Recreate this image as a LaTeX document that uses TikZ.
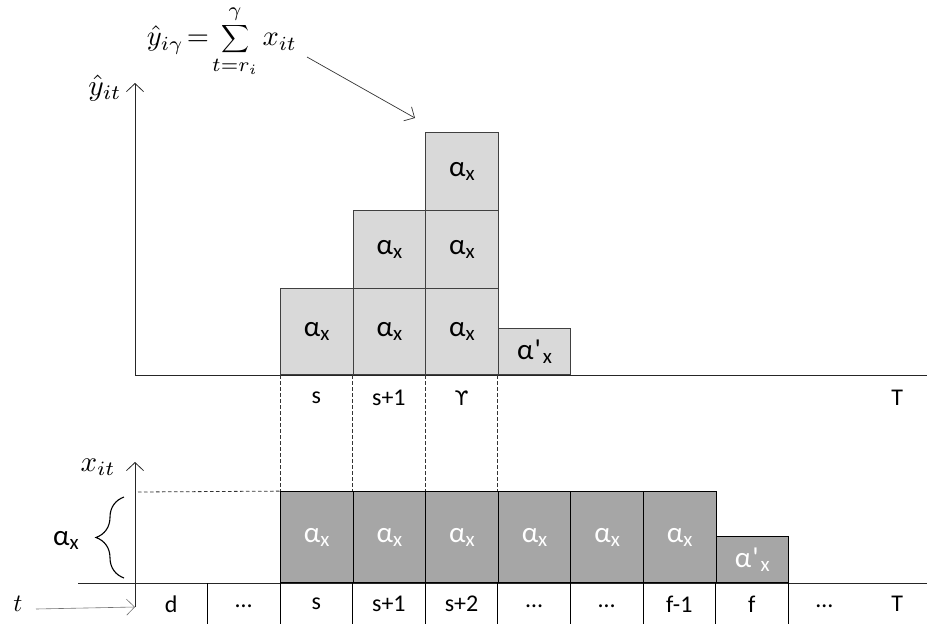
\documentclass[tikz,border=0pt]{standalone}
\usepackage{fontspec}
\setmainfont{Carlito}
\newfontfamily\dejavu{DejaVu Sans}
\usetikzlibrary{arrows.meta,decorations.pathreplacing}
\definecolor{lightbox}{HTML}{D9D9D9}
\definecolor{darkbox}{HTML}{A6A6A6}
\newcommand\alx{α\raisebox{-4pt}{\fontsize{21}{21}\selectfont x}}
\newcommand\alpx{α\hspace{1pt}\textquotesingle\hspace{2pt}\raisebox{-4pt}{\fontsize{21}{21}\selectfont x}}
\newcommand\scaledmath[2]{\scalebox{#1}{$#2$}}
\newcommand\smallsum{\mathop{\vcenter{\hbox{\scalebox{0.68}{$\displaystyle\sum$}}}}}
\begin{document}
\begin{tikzpicture}[x=1pt,y=-1pt,
  topbox/.style={draw=black!75, fill=lightbox, line width=0.9pt, minimum width=72.6pt,
    inner sep=0pt, anchor=south west, font=\fontsize{29}{29}\selectfont},
  botbox/.style={draw=black, fill=darkbox, line width=0.9pt, minimum width=72.6pt,
    minimum height=91pt, inner sep=0pt, anchor=south west, text=white,
    font=\fontsize{29}{29}\selectfont},
  lab/.style={font=\fontsize{24}{24}\selectfont, inner sep=0pt},
  mlab/.style={inner sep=0pt},
  axisline/.style={line width=1pt, draw=black!85},
  axisarrow/.style={line width=1pt, draw=black!85, -{Straight Barb[length=8pt,width=17pt,line width=0.8pt]}},
  cellsep/.style={line width=0.9pt, draw=black},
  guide/.style={dashed, dash pattern=on 3.5pt off 2.5pt, line width=0.8pt, draw=black!80}
]
\useasboundingbox (0,0) rectangle (927,624);

% top stacked boxes
\node[topbox, minimum height=86pt] (a1) at (280,375) {\alx};
\node[topbox, minimum height=86pt] (a2) at (352.6,375) {\alx};
\node[topbox, minimum height=78pt] (a3) at (352.6,289) {\alx};
\node[topbox, minimum height=86pt] (a4) at (425.2,375) {\alx};
\node[topbox, minimum height=78pt] (a5) at (425.2,289) {\alx};
\node[topbox, minimum height=78pt] (a6) at (425.2,211) {\alx};
\node[topbox, minimum height=46pt] (a7) at (497.8,375) {\alpx};

% bottom boxes
\node[botbox] (b1) at (280,583) {\alx};
\node[botbox] (b2) at (352.6,583) {\alx};
\node[botbox] (b3) at (425.2,583) {\alx};
\node[botbox] (b4) at (497.8,583) {\alx};
\node[botbox] (b5) at (570.4,583) {\alx};
\node[botbox] (b6) at (643,583) {\alx};
\node[botbox, minimum height=46pt] (b7) at (715.6,583) {\alpx};

% axes coordinates
\coordinate (o1) at (135,375);
\coordinate (y1) at (135,83);
\coordinate (x1) at (927,375);
\coordinate (o2) at (135,607);
\coordinate (y2) at (135,462);
\coordinate (x2l) at (78,583);
\coordinate (x2r) at (927,583);

\draw[axisline] (o1) -- (x1);
\draw[axisarrow] (o1) -- (y1);
\draw[axisline] (x2l) -- (x2r);
\draw[axisarrow] (o2) -- (y2);

% dashed guides
\draw[guide] (a1.south west) -- (b1.north west);
\draw[guide] (a2.south west) -- (b2.north west);
\draw[guide] (a4.south west) -- (b3.north west);
\draw[guide] (a7.south west) -- (b4.north west);
\coordinate (hd) at (138,492);
\draw[guide] (hd) -- (b1.north west);

% bottom cell separators
\foreach \xx [count=\i] in {207.4,280,352.6,425.2,497.8,570.4,643,715.6,788.2}{
  \coordinate (st\i) at (\xx,583);
  \coordinate (sb\i) at (\xx,624);
  \draw[cellsep] (st\i) -- (sb\i);
}

% top labels
\node[lab] (ts) at (316.3,398) {s};
\node[lab] (ts1) at (388.9,398) {s+1};
\node[lab, font=\dejavu\fontsize{20}{20}\selectfont] (tg) at (461.5,398) {ϒ};
\node[lab] (tT) at (897.1,398) {T};

% bottom labels
\node[lab] (ld) at (171.1,604) {d};
\node[lab] (le1) at (243.7,606) {…};
\node[lab] (ls) at (316.3,604) {s};
\node[lab] (ls1) at (388.9,604) {s+1};
\node[lab] (ls2) at (461.5,604) {s+2};
\node[lab] (le2) at (534.1,606) {…};
\node[lab] (le3) at (606.7,606) {…};
\node[lab] (lf1) at (679.3,604) {f-1};
\node[lab] (lf) at (751.9,604) {f};
\node[lab] (le4) at (824.5,606) {…};
\node[lab] (lT) at (897.1,604) {T};

% axis labels
\node[mlab] (yl) at (105,88) {\scaledmath{2.95}{\hat{y}_{it}}};
\node[mlab] (xl) at (98,467) {\scaledmath{2.9}{x_{it}}};
\node[mlab] (tl) at (18,604) {\scaledmath{2.5}{t}};
\coordinate (ta) at (36,609);
\draw[draw=black!55, line width=0.6pt, -{Straight Barb[length=8pt,width=16pt,line width=0.6pt]}] (ta) -- (o2);

% brace
\coordinate (br1) at (124,578);
\coordinate (br2) at (124,497);
\draw[decorate, decoration={brace, amplitude=28pt, aspect=0.5}, line width=1.1pt] (br1) -- (br2);
\node[font=\fontsize{29}{29}\selectfont, inner sep=0pt] (al) at (66,540) {\alx};

% formula
\node[mlab] (fm) at (222,41) {\scaledmath{2.85}{\hat{y}_{i\gamma}\!=\!\smallsum\limits_{t=r_i}^{\gamma}x_{it}}};
\coordinate (fa) at (307,57);
\coordinate (fb) at (415,118);
\draw[draw=black!80, line width=0.7pt, -{Straight Barb[length=8pt,width=16pt,line width=0.7pt]}] (fa) -- (fb);
\end{tikzpicture}
\end{document}
